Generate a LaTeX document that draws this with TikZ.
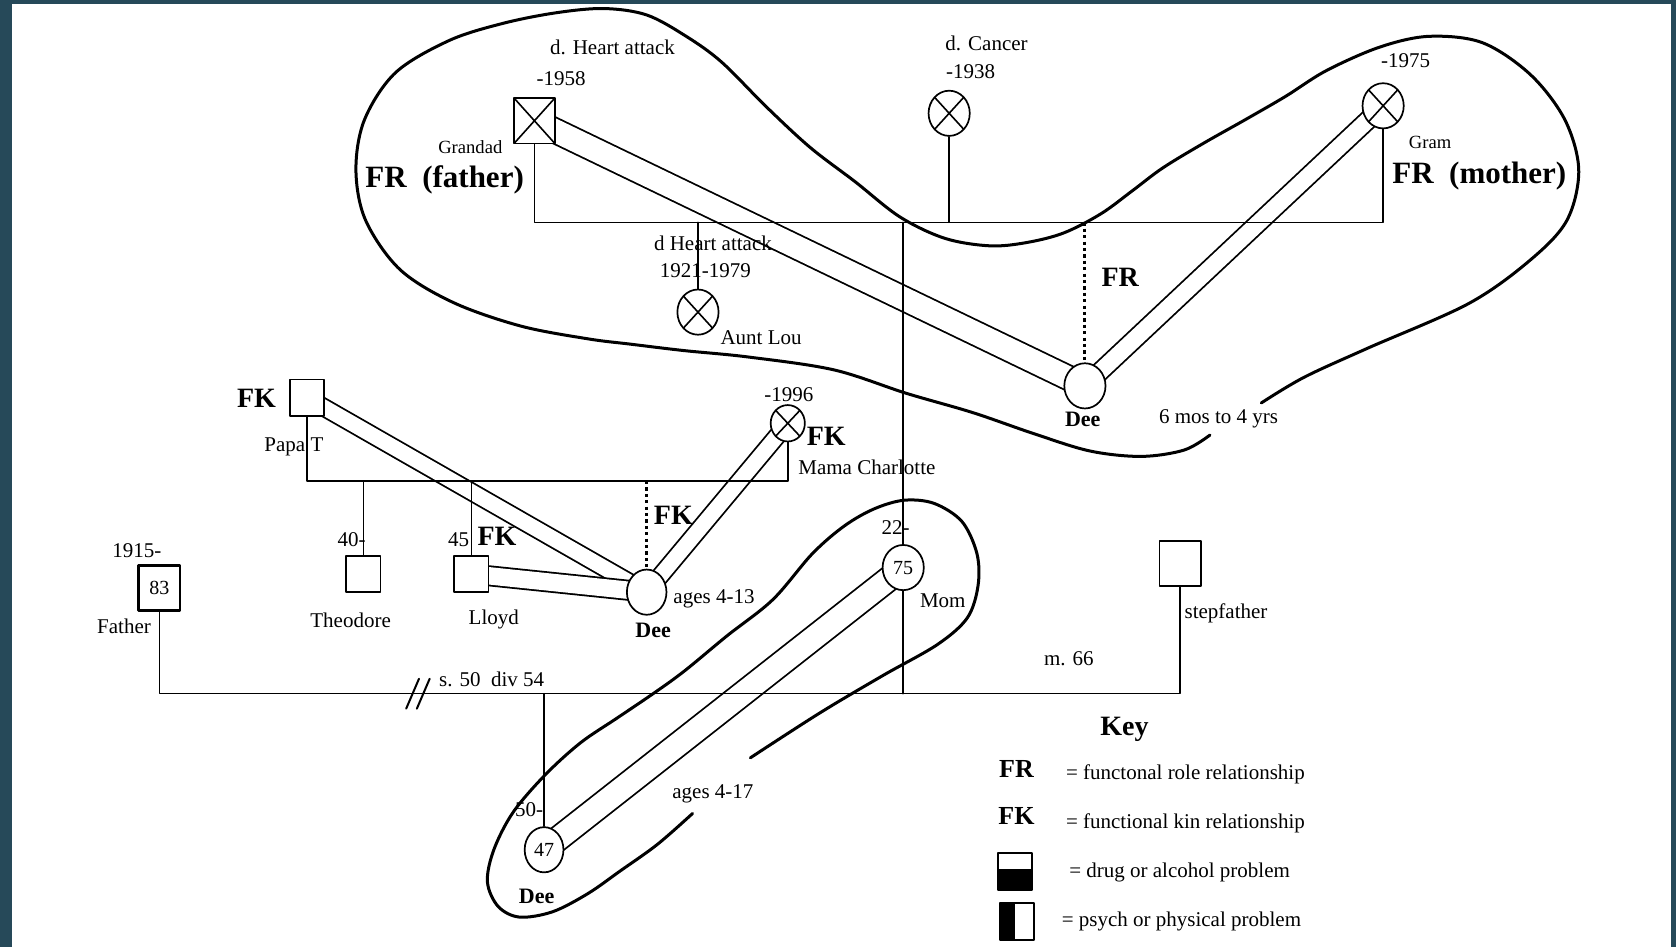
\documentclass[tikz,border=0pt]{standalone}
\usepackage{fontspec}
\setmainfont{Liberation Serif}
\usetikzlibrary{calc,positioning,backgrounds,shapes.geometric}
\definecolor{framecol}{RGB}{38,73,89}
\tikzset{
  every picture/.style={line cap=round,line join=round},
  person/.style={draw,fill=white,line width=.85pt,inner sep=0pt,
    font=\fontsize{10}{11}\selectfont},
  female/.style={person,ellipse,minimum width=20.6pt,minimum height=22.6pt},
  male/.style={person,rectangle,minimum width=20.6pt,minimum height=22.6pt},
  smallfemale/.style={person,ellipse,minimum width=17.1pt,minimum height=18.2pt},
  smallmale/.style={person,rectangle,minimum width=17.1pt,minimum height=18.2pt},
  deceased/.style={path picture={
    \draw[line width=.8pt]
      (path picture bounding box.north west)--(path picture bounding box.south east)
      (path picture bounding box.north east)--(path picture bounding box.south west);}},
  familyline/.style={line width=.75pt},
  fkline/.style={line width=1.5pt,line cap=butt,dash pattern=on 1.6pt off 1.6pt},
  band/.style={draw=black,line width=.9pt,double=white,double distance=#1,
    shorten <=-5pt,shorten >=-5pt},
  blob/.style={line width=1.5pt},
  lab/.style={font=\fontsize{10.5}{12}\selectfont,inner sep=0pt},
  smalllab/.style={font=\fontsize{9.3}{11}\selectfont,inner sep=0pt},
  boldlab/.style={font=\fontsize{11}{12}\selectfont\bfseries,inner sep=0pt},
  fklab/.style={font=\fontsize{14}{15}\selectfont\bfseries,inner sep=0pt},
  keylab/.style={font=\fontsize{13}{14}\selectfont\bfseries,inner sep=0pt},
  biglab/.style={font=\fontsize{15.5}{17}\selectfont\bfseries,inner sep=0pt},
  keybox/.style={draw,line width=1pt,minimum width=17pt,minimum height=18.5pt,
    inner sep=0pt},
  drugfill/.style={path picture={\fill (path picture bounding box.south west)
    rectangle ([yshift=1pt]path picture bounding box.east);}},
  psychfill/.style={path picture={\fill (path picture bounding box.south west)
    rectangle ([xshift=-1pt]path picture bounding box.north);}}
}

\begin{document}
\begin{tikzpicture}[x=.5344pt,y=-.5344pt]
  \useasboundingbox (0,0) rectangle (1568,886);
  \begin{scope}[on background layer]
    \fill[framecol] (0,0) rectangle (1568,886);
    \fill[white] (11.2,3.7) rectangle (1563.3,886);
  \end{scope}

  % Grandparents' family.
  \node[male,deceased,minimum width=20.3pt] (grandad) at (500,113) {};
  \node[female,deceased] (cancer) at (888,106) {};
  \node[female,deceased] (gram) at (1294,99) {};
  \node[female,deceased] (auntlou) at (653,292) {};
  \node[female] (deeA) at (1015,361) {};
  \node[female] (mom) at (845,531) {75};

  % Papa T and Mama Charlotte.
  \node[smallmale] (papat) at (287,372) {};
  \node[smallfemale,deceased] (mamach) at (737,396) {};
  \node[smallmale] (theodore) at (340,537) {};
  \node[smallmale] (lloyd) at (441,537) {};
  \node[female,minimum width=19.8pt] (deeB) at (605,554) {};

  % Parents.
  \node[male,line width=1.3pt] (father) at (149,550) {83};
  \node[male] (stepfather) at (1104,527) {};
  \node[female,minimum width=19.4pt] (deeC) at (509,795) {47};

  \coordinate (topbar) at (0,208);
  \coordinate (midbar) at (0,450);
  \coordinate (lowbar) at (0,649);
  \coordinate (divorce) at (391,649);

  \draw[familyline] (grandad.south) -- (grandad.south |- topbar)
    -- (gram.south |- topbar) -- (gram.south);
  \draw[familyline] (cancer.south) -- (cancer.south |- topbar);
  \draw[familyline] (auntlou.north |- topbar) -- (auntlou.north);
  \draw[familyline] (mom.north |- topbar) -- (mom.north);
  \draw[fkline] (deeA.north |- topbar) -- (deeA.north);

  \draw[familyline] (papat.south) -- (papat.south |- midbar)
    -- (mamach.south |- midbar) -- (mamach.south);
  \draw[familyline] (theodore.north |- midbar) -- (theodore.north);
  \draw[familyline] (lloyd.north |- midbar) -- (lloyd.north);
  \draw[fkline] (deeB.north |- midbar) -- (deeB.north);

  \draw[familyline] (father.south) -- (father.south |- lowbar)
    -- (stepfather.south |- lowbar) -- (stepfather.south);
  \draw[familyline] (mom.south) -- (mom.south |- lowbar);
  \draw[familyline] (deeC.north |- lowbar) -- (deeC.north);
  \foreach \dx in {-5,5}
    \draw[line width=1pt] ($(divorce)+(\dx-6,14)$) -- ($(divorce)+(\dx+6,-14)$);

  % Relationship bands, under the lines.
  \begin{scope}[on background layer]
    \draw[band=11.4pt] (grandad) -- (deeA);
    \draw[band=8.2pt] (gram) -- (deeA);
    \draw[band=7.6pt] (papat) -- (deeB);
    \draw[band=7.6pt] (mamach) -- (deeB);
    \draw[band=8.7pt] (lloyd) -- (deeB);
    \draw[band=11.4pt] (mom) -- (deeC);
  \end{scope}

  % Outlines round the periods of care.
  \draw[blob] plot[smooth,tension=.55] coordinates {
    (1132,407) (1108,421) (1068,427) (1020,422) (968,406) (910,386)
    (848,368) (780,346) (700,334) (640,328) (590,322) (550,317) (487,305)
    (424,283) (374,252) (342,206) (333,159) (341,112) (370,68) (420,38)
    (470,22) (520,12) (565,8) (605,14) (642,34) (675,58) (717,100)
    (758,138) (800,170) (842,203) (884,223) (926,230) (960,227) (995,218)
    (1030,200) (1060,178) (1088,157) (1126,134) (1165,112) (1203,90)
    (1241,66) (1291,44) (1337,34) (1387,40) (1432,70) (1464,112)
    (1477,159) (1466,206) (1432,243) (1374,284) (1279,326) (1220,353)
    (1180,377)};
  \draw[blob] plot[smooth,tension=.55] coordinates {
    (702,709) (767,667) (826,632) (877,603) (905,578) (915,548) (914,518)
    (900,488) (874,471) (846,468) (818,476) (790,492) (760,518) (723,561)
    (680,595) (640,628) (611,649) (577,672) (543,695) (510,725) (480,760)
    (462,795) (456,825) (466,848) (486,858) (517,853) (550,836) (580,815)
    (615,790) (648,761)};

  % Labels round the grandparents.
  \node[lab] (grandadDied) at (573,44) {d. Heart attack};
  \node[lab] (grandadYear) at (525,74) {-1958};
  \node[smalllab] (grandadName) at (440,138) {Grandad};
  \node[biglab] (frFather) at (416,168) {FR\ \ (father)};
  \node[lab] (cancerDied) at (923,41) {d. Cancer};
  \node[lab] (cancerYear) at (908,67) {-1938};
  \node[lab] (gramYear) at (1315,57) {-1975};
  \node[smalllab] (gramName) at (1338,133) {Gram};
  \node[biglab] (frMother) at (1384,165) {FR\ \ (mother)};
  \node[lab] (louDied) at (667,228) {d Heart attack};
  \node[lab] (louYears) at (660,253) {1921-1979};
  \node[lab] (louName) at (712,316) {Aunt Lou};
  \node[fklab] (frDee) at (1048,259) {FR};
  \node[boldlab] (deeAName) at (1013,392) {Dee};
  \node[lab] (deeAAges) at (1140,392) {6 mos to 4 yrs};

  % Labels round Papa T and Mama Charlotte.
  \node[fklab] (fkPapa) at (240,373) {FK};
  \node[lab] (papaName) at (275,418) {Papa T};
  \node[lab] (mamaYear) at (738,369) {-1996};
  \node[fklab] (fkMama) at (773,408) {FK};
  \node[lab] (mamaName) at (811,437) {Mama Charlotte};
  \node[fklab] (fkDeeB) at (630,482) {FK};
  \node[lab] (theoAge) at (329,505) {40-};
  \node[lab] (lloydAge) at (429,505) {45};
  \node[fklab] (fkLloyd) at (465,502) {FK};
  \node[lab] (theoName) at (328,580) {Theodore};
  \node[lab] (lloydName) at (462,580) {Lloyd};
  \node[boldlab] (deeBName) at (611,590) {Dee};
  \node[lab] (deeBAges) at (668,560) {ages 4-13};

  % Labels round the parents.
  \node[lab] (fatherYear) at (128,515) {1915-};
  \node[lab] (fatherName) at (116,586) {Father};
  \node[lab] (momAge) at (838,494) {22-};
  \node[lab] (momName) at (882,562) {Mom};
  \node[lab] (stepName) at (1147,574) {stepfather};
  \node[lab] (marriage) at (1000,616) {m. 66};
  \node[lab] (divorceNote) at (460,636) {s. 50\ \ div 54};
  \node[lab] (deeCAge) at (495,757) {50-};
  \node[boldlab] (deeCName) at (502,839) {Dee};
  \node[lab] (deeCAges) at (667,743) {ages 4-17};

  % Key.
  \node[fklab] (keyTitle) at (1052,682) {Key};
  \node[keylab] (keyFR) at (951,719) {FR};
  \node[lab,anchor=west] (keyFRText) at (997,724) {= functonal role relationship};
  \node[keylab] (keyFK) at (951,763) {FK};
  \node[lab,anchor=west] (keyFKText) at (997,770) {= functional kin relationship};
  \node[keybox,drugfill] (drugbox) at (950,815) {};
  \node[lab,anchor=west] (drugText) at (1000,816) {= drug or alcohol problem};
  \node[keybox,psychfill] (psychbox) at (951,862) {};
  \node[lab,anchor=west] (psychText) at (993,862) {= psych or physical problem};
\end{tikzpicture}
\end{document}
